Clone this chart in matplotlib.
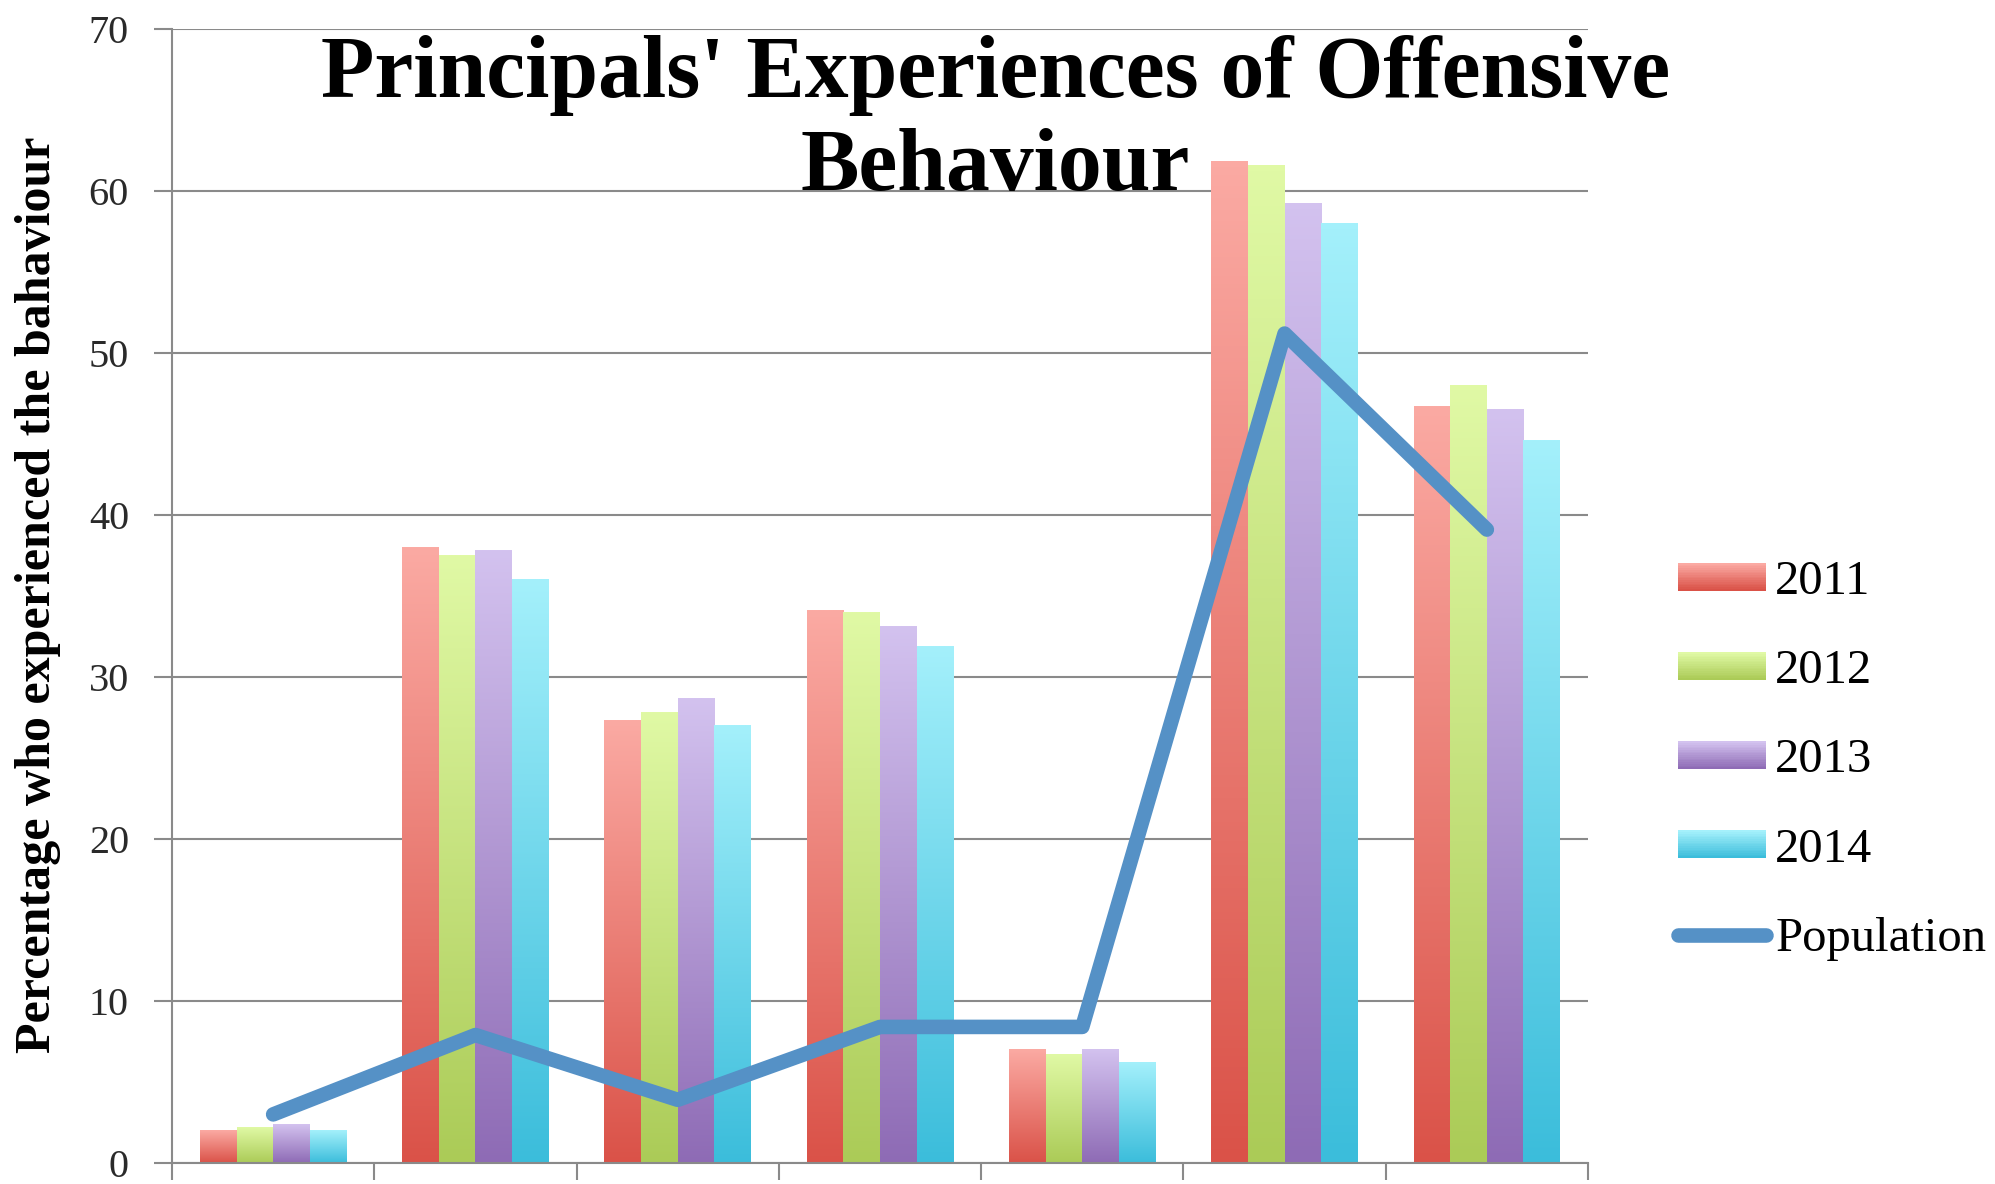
import matplotlib
matplotlib.use("Agg")
import matplotlib.pyplot as plt
import numpy as np
from matplotlib.colors import LinearSegmentedColormap, to_rgb
from matplotlib.legend_handler import HandlerBase
from matplotlib.patches import Rectangle
from matplotlib.lines import Line2D

plt.rcParams['font.family'] = ['Liberation Serif', 'DejaVu Serif']

# percentages for each behaviour category (7 categories, no labels on the axis)
years = ['2011', '2012', '2013', '2014']
v2011 = [2.0, 38.0, 27.3, 34.1, 7.0, 61.8, 46.7]
v2012 = [2.2, 37.5, 27.8, 34.0, 6.7, 61.6, 48.0]
v2013 = [2.4, 37.8, 28.7, 33.1, 7.0, 59.2, 46.5]
v2014 = [2.0, 36.0, 27.0, 31.9, 6.2, 58.0, 44.6]
population = [3.0, 7.9, 3.9, 8.4, 8.4, 51.2, 39.1]
yticks = [0, 10, 20, 30, 40, 50, 60, 70]

# light (top) and dark (bottom) end of each bar's gradient
tops = ['#fbaaa3', '#e0f9a5', '#d3c2ef', '#a4f0fb']
bottoms = ['#da5248', '#abcb57', '#8e6bb5', '#3bbddb']
line_color = '#5591c6'
grid_color = '#8a8a8a'
line_w = 10.5


def mix(c1, c2, t):
    a = np.array(to_rgb(c1))
    b = np.array(to_rgb(c2))
    return tuple(a + (b - a) * t)


class GradientHandler(HandlerBase):
    def __init__(self, top, bottom, n=16):
        super().__init__()
        self.top = top
        self.bottom = bottom
        self.n = n

    def create_artists(self, legend, orig_handle, xdescent, ydescent,
                       width, height, fontsize, trans):
        arts = []
        for i in range(self.n):
            c = mix(self.bottom, self.top, i / (self.n - 1))
            r = Rectangle((-xdescent, -ydescent + height * i / self.n),
                          width, height / self.n * 1.05,
                          facecolor=c, edgecolor='none', transform=trans)
            arts.append(r)
        return arts


fig = plt.figure(figsize=(19.95, 11.84), dpi=100)
ax = fig.add_axes([172 / 1995, 1 - 1163 / 1184, (1588 - 172) / 1995, (1163 - 29) / 1184])

x = np.arange(len(v2011))
bw = 0.181
series = [v2011, v2012, v2013, v2014]
for k, vals in enumerate(series):
    cmap = LinearSegmentedColormap.from_list('g%d' % k, [bottoms[k], tops[k]])
    bars = ax.bar(x + (k - 1.5) * bw, vals, width=bw, color='none', edgecolor='none', zorder=2)
    grad = np.linspace(0, 1, 256).reshape(-1, 1)
    for b in bars:
        x0 = b.get_x()
        ax.imshow(grad, cmap=cmap, origin='lower', aspect='auto', interpolation='bilinear',
                  extent=(x0, x0 + b.get_width(), 0, b.get_height()), zorder=2)

ax.plot(x, population, color=line_color, lw=line_w, solid_capstyle='round',
        solid_joinstyle='round', zorder=3)

ax.set_xlim(-0.5, 6.5)
ax.set_ylim(0, 70)
ax.set_yticks(yticks)
ax.set_xticks(np.arange(-0.5, 7, 1))
ax.set_xticklabels([])
ax.yaxis.grid(True, color=grid_color, lw=1.5)
ax.set_axisbelow(True)
ax.tick_params(axis='y', length=13, width=1.5, color=grid_color, labelsize=29,
               labelcolor='#2a2a2a', pad=18)
ax.tick_params(axis='x', length=12, width=1.5, color=grid_color)
for s in ['top', 'right']:
    ax.spines[s].set_visible(False)
for s in ['left', 'bottom']:
    ax.spines[s].set_color(grid_color)
    ax.spines[s].set_linewidth(1.5)

fig.text(0.499, 1 - 190 / 1184, "Principals' Experiences of Offensive\nBehaviour",
         ha='center', va='baseline', fontsize=63, fontweight='bold', linespacing=1.2)
fig.text(0.019, 0.498, 'Percentage who experienced the bahaviour', rotation=90,
         ha='center', va='center', fontsize=36, fontweight='bold')

# legend: gradient swatches for the years, thick line for the population
proxies = [Rectangle((0, 0), 1, 1) for _ in years]
pop_proxy = Line2D([], [], color=line_color, lw=line_w, solid_capstyle='round')
hmap = {p: GradientHandler(tops[k], bottoms[k]) for k, p in enumerate(proxies)}
fig.legend(proxies + [pop_proxy], years + ['Population'], handler_map=hmap,
           loc='upper left', bbox_to_anchor=(1678 / 1995, 1 - 560 / 1184),
           frameon=False, fontsize=35, handlelength=1.8, handleheight=0.5,
           handletextpad=0.2, labelspacing=0.93, borderpad=0, borderaxespad=0)

fig.savefig('out.png', dpi=100)
